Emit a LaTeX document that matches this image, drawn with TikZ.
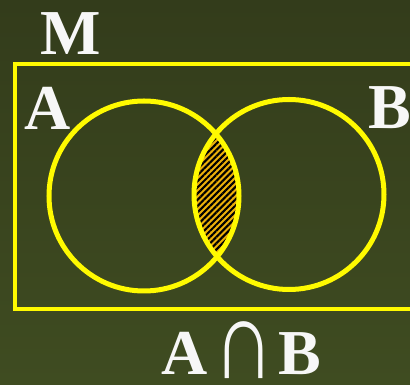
\documentclass[tikz,border=0pt]{standalone}
\usepackage{fontspec}
\setmainfont{Liberation Serif}
\usepackage{graphicx}
\usetikzlibrary{patterns.meta}
\definecolor{boardtop}{RGB}{51,60,27}
\definecolor{boardbot}{RGB}{63,76,33}
\definecolor{chalkyel}{RGB}{255,250,0}
\definecolor{hatchorg}{RGB}{236,176,10}

\begin{document}
\begin{tikzpicture}[
  x=1pt,y=1pt,
  setline/.style={draw=chalkyel,line width=4.5pt},
  lbl/.style={text=white!94!gray,inner sep=0pt,font=\fontsize{64}{64}\selectfont\bfseries}
]
\clip (0,0) rectangle (410,385);
\shade[top color=boardtop,bottom color=boardbot] (0,0) rectangle (410,385);
% universe and the two sets
\coordinate (ca) at (144,189);
\coordinate (cb) at (289,190.5);
\begin{scope}
  \clip (ca) circle (95);
  \fill[hatchorg] (cb) circle (95);
  \fill[pattern={Lines[angle=45,distance=4.4pt,line width=2.1pt]},pattern color=black] (cb) circle (95);
\end{scope}
\draw[setline] (15,76) rectangle (430,321);
\draw[setline,line width=5pt] (ca) circle (95);
\draw[setline,line width=5pt] (cb) circle (95);
% labels
\node[lbl] (m) at (71,351) {M};
\node[lbl] (a) at (48,277) {A};
\node[lbl] (b) at (390,277) {B};
\node[lbl,anchor=base west] (cap) at (161,10)
  {A\hspace{6pt}\raisebox{-4pt}{\resizebox*{61pt}{57pt}{\mdseries ∩}}\hspace{4pt}B};
\end{tikzpicture}
\end{document}
